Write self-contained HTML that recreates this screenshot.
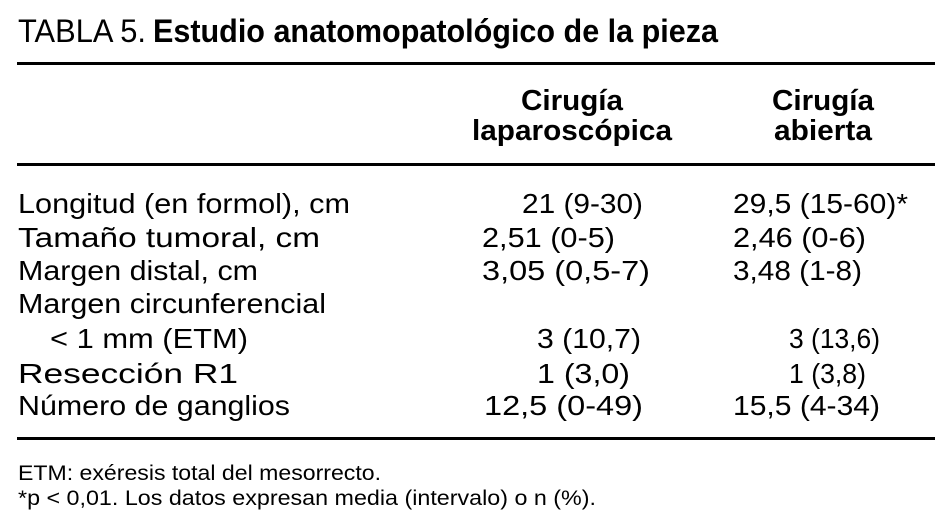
<!DOCTYPE html>
<html><head><meta charset="utf-8"><style>
html,body{margin:0;padding:0;background:#fff;}
svg{display:block;}
text{font-family:"Liberation Sans",sans-serif;fill:#000;}
</style></head><body>
<svg width="945" height="529" viewBox="0 0 945 529" xmlns="http://www.w3.org/2000/svg">
<text x="18" y="42" font-size="32" textLength="128" lengthAdjust="spacingAndGlyphs">TABLA 5.</text>
<text x="153" y="42" font-size="32" font-weight="bold" textLength="565" lengthAdjust="spacingAndGlyphs">Estudio anatomopatológico de la pieza</text>
<rect x="17" y="62" width="918" height="3"/>
<text x="572" y="110" font-size="29" font-weight="bold" text-anchor="middle" textLength="102" lengthAdjust="spacingAndGlyphs">Cirugía</text>
<text x="572" y="140" font-size="29" font-weight="bold" text-anchor="middle" textLength="200" lengthAdjust="spacingAndGlyphs">laparoscópica</text>
<text x="823" y="110" font-size="29" font-weight="bold" text-anchor="middle" textLength="102" lengthAdjust="spacingAndGlyphs">Cirugía</text>
<text x="823" y="140" font-size="29" font-weight="bold" text-anchor="middle" textLength="98" lengthAdjust="spacingAndGlyphs">abierta</text>
<rect x="17" y="163" width="918" height="3"/>
<g font-size="28">
<text x="18" y="213" textLength="332" lengthAdjust="spacingAndGlyphs">Longitud (en formol), cm</text>
<text x="18" y="247" textLength="302" lengthAdjust="spacingAndGlyphs">Tamaño tumoral, cm</text>
<text x="18" y="280" textLength="240" lengthAdjust="spacingAndGlyphs">Margen distal, cm</text>
<text x="18" y="313" textLength="308" lengthAdjust="spacingAndGlyphs">Margen circunferencial</text>
<text x="50" y="348" textLength="198" lengthAdjust="spacingAndGlyphs">&lt; 1 mm (ETM)</text>
<text x="18" y="383" textLength="220" lengthAdjust="spacingAndGlyphs">Resección R1</text>
<text x="18" y="415" textLength="272" lengthAdjust="spacingAndGlyphs">Número de ganglios</text>

<text x="522" y="213" textLength="121" lengthAdjust="spacingAndGlyphs">21 (9-30)</text>
<text x="482" y="247" textLength="133" lengthAdjust="spacingAndGlyphs">2,51 (0-5)</text>
<text x="482" y="280" textLength="168" lengthAdjust="spacingAndGlyphs">3,05 (0,5-7)</text>
<text x="537" y="348" textLength="104" lengthAdjust="spacingAndGlyphs">3 (10,7)</text>
<text x="537" y="383" textLength="93" lengthAdjust="spacingAndGlyphs">1 (3,0)</text>
<text x="484" y="415" textLength="159" lengthAdjust="spacingAndGlyphs">12,5 (0-49)</text>

<text x="733" y="213" textLength="175" lengthAdjust="spacingAndGlyphs">29,5 (15-60)*</text>
<text x="733" y="247" textLength="133" lengthAdjust="spacingAndGlyphs">2,46 (0-6)</text>
<text x="733" y="280" textLength="129" lengthAdjust="spacingAndGlyphs">3,48 (1-8)</text>
<text x="789" y="348" textLength="91" lengthAdjust="spacingAndGlyphs">3 (13,6)</text>
<text x="789" y="383" textLength="77" lengthAdjust="spacingAndGlyphs">1 (3,8)</text>
<text x="733" y="415" textLength="147" lengthAdjust="spacingAndGlyphs">15,5 (4-34)</text>
</g>
<rect x="17" y="437" width="918" height="3"/>
<text x="18" y="480" font-size="21" textLength="363" lengthAdjust="spacingAndGlyphs">ETM: exéresis total del mesorrecto.</text>
<text x="18" y="505" font-size="21" textLength="578" lengthAdjust="spacingAndGlyphs">*p &lt; 0,01. Los datos expresan media (intervalo) o n (%).</text>
</svg>
</body></html>
